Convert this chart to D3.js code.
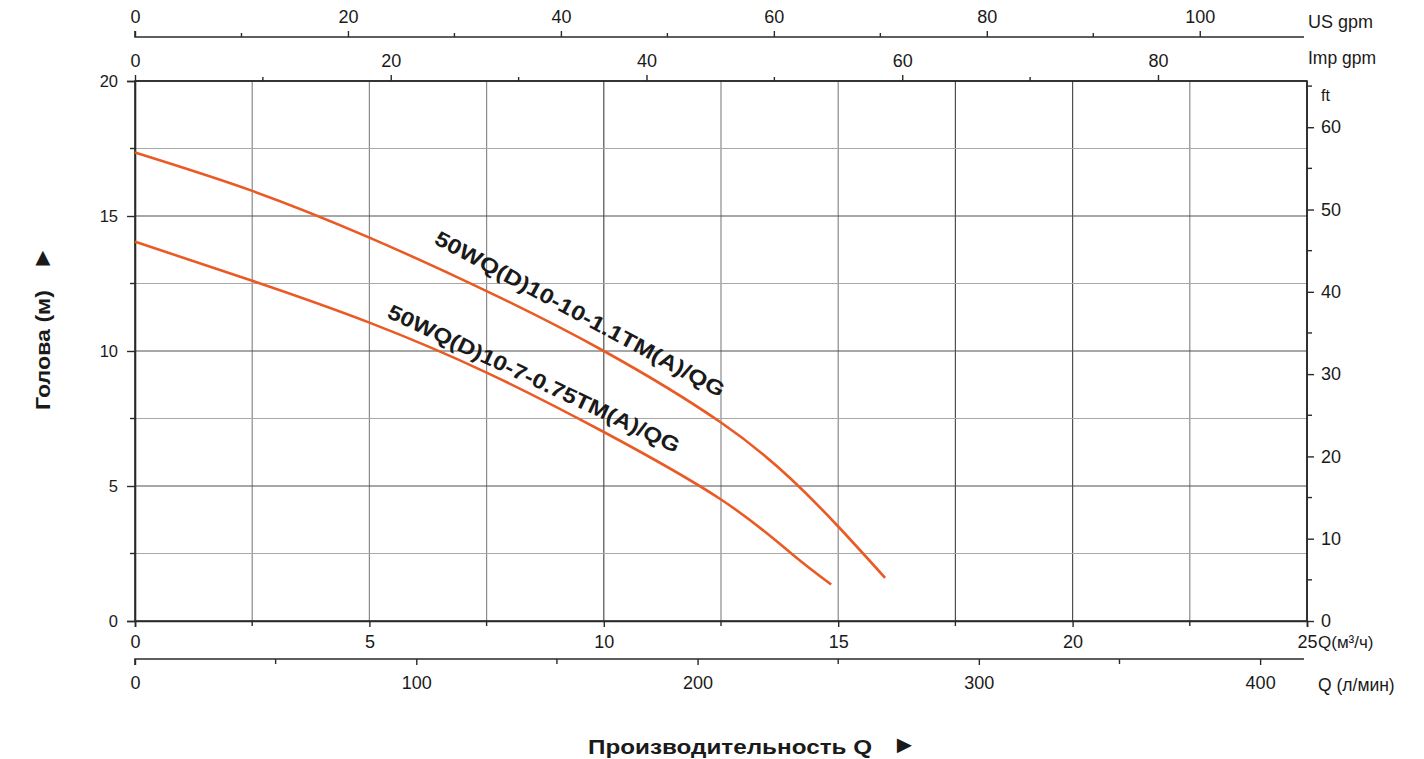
<!DOCTYPE html>
<html><head><meta charset="utf-8">
<script src="https://cdn.jsdelivr.net/npm/d3@7"></script>
<style>
html,body{margin:0;padding:0;background:#fff;}
svg text{font-family:"Liberation Sans",Arial,sans-serif;fill:#1a1a1a;}
</style></head>
<body><svg id="chart" width="1424" height="759"></svg>
<script>
// ---- data ----
const qMajorTicks = [0, 5, 10, 15, 20, 25];
const qMinorTicks = [2.5, 7.5, 12.5, 17.5, 22.5];
const headMajorTicks = [0, 5, 10, 15, 20];
const headMinorTicks = [2.5, 7.5, 12.5, 17.5];
const usGpmMajor = [0, 20, 40, 60, 80, 100];
const usGpmMinor = [10, 30, 50, 70, 90];
const impGpmMajor = [0, 20, 40, 60, 80];
const impGpmMinor = [10, 30, 50, 70];
const lpmMajor = [0, 100, 200, 300, 400];
const lpmMinor = [50, 150, 250, 350];
const ftMajor = [0, 10, 20, 30, 40, 50, 60];
const ftMinor = [5, 15, 25, 35, 45, 55, 65];

const pump1Name = "50WQ(D)10-10-1.1TM(A)/QG";
const pump1Q = [0, 2.5, 5, 7.5, 10, 12.5, 14, 15, 16];
const pump1H = [17.35, 15.93, 14.2, 12.22, 10.0, 7.35, 5.25, 3.5, 1.6];
const pump2Name = "50WQ(D)10-7-0.75TM(A)/QG";
const pump2Q = [0, 2.5, 5, 7.5, 10, 12.5, 14, 14.85];
const pump2H = [14.05, 12.6, 11.05, 9.2, 7.0, 4.5, 2.5, 1.35];

// ---- layout ----
const svg = d3.select("#chart");
const L = 135, R = 1307, T = 81, B = 621;
const x = d3.scaleLinear().domain([0, 25]).range([L, R]);
const y = d3.scaleLinear().domain([0, 20]).range([B, T]);
const xUS = d3.scaleLinear().domain([0, 25 * 4.40287]).range([L, R]);
const xImp = d3.scaleLinear().domain([0, 25 * 3.66615]).range([L, R]);
const xLpm = d3.scaleLinear().domain([0, 25 * 1000 / 60]).range([L, R]);
const yFt = d3.scaleLinear().domain([0, 20 * 3.28084]).range([B, T]);

const dark = "#2a2a2a", gridDark = "#505050", gridLight = "#a8a8a8";
const strongV = new Set([10, 17.5, 20]);

// grid
const g = svg.append("g");
qMajorTicks.concat(qMinorTicks).filter(v => v > 0 && v < 25).forEach(v => {
  g.append("line").attr("x1", x(v)).attr("x2", x(v)).attr("y1", T).attr("y2", B)
    .attr("stroke", strongV.has(v) ? gridDark : "#8a8a8a").attr("stroke-width", 1.2);
});
headMajorTicks.concat(headMinorTicks).filter(v => v > 0 && v < 20).forEach(v => {
  g.append("line").attr("x1", L).attr("x2", R).attr("y1", y(v)).attr("y2", y(v))
    .attr("stroke", headMajorTicks.includes(v) ? gridDark : gridLight).attr("stroke-width", 1.2);
});

// frame
svg.append("rect").attr("x", L).attr("y", T).attr("width", R - L).attr("height", B - T)
  .attr("fill", "none").attr("stroke", dark).attr("stroke-width", 1.6);

function styleAxis(sel, fs) {
  sel.select(".domain").attr("stroke", dark).attr("stroke-width", 1.6);
  sel.selectAll(".tick line").attr("stroke", dark).attr("stroke-width", 1.4);
  sel.selectAll(".tick text").attr("font-size", fs || 18).attr("fill", "#1a1a1a")
    .style("font-family", '"Liberation Sans",Arial,sans-serif');
}
function minor(scale, vals, orient, pos, len) {
  const gg = svg.append("g");
  vals.forEach(v => {
    const p = scale(v);
    if (orient === "h") gg.append("line").attr("x1", p).attr("x2", p).attr("y1", pos).attr("y2", pos + len)
      .attr("stroke", dark).attr("stroke-width", 1.4);
    else gg.append("line").attr("y1", p).attr("y2", p).attr("x1", pos).attr("x2", pos + len)
      .attr("stroke", dark).attr("stroke-width", 1.4);
  });
}

// left axis (head m)
const axL = svg.append("g").attr("transform", `translate(${L},0)`)
  .call(d3.axisLeft(y).tickValues(headMajorTicks).tickSize(8).tickPadding(9).tickFormat(d3.format("d")));
styleAxis(axL, 16.5);
minor(y, headMinorTicks, "v", L, -5);

// right axis (ft)
const axR = svg.append("g").attr("transform", `translate(${R},0)`)
  .call(d3.axisRight(yFt).tickValues(ftMajor).tickSize(7).tickPadding(7).tickFormat(d3.format("d")));
styleAxis(axR, 18);
axR.select(".domain").attr("d", `M0,${B}V${T}`);
minor(yFt, ftMinor, "v", R, 5);
svg.append("text").attr("x", 1321).attr("y", 101).attr("font-size", 16).text("ft");

// bottom Q m3/h
const axB = svg.append("g").attr("transform", `translate(0,${B})`)
  .call(d3.axisBottom(x).tickValues(qMajorTicks).tickSize(6).tickPadding(8).tickFormat(d3.format("d")));
styleAxis(axB, 18);
minor(x, qMinorTicks, "h", B, 5);
svg.append("text").attr("x", 1318).attr("y", 648).attr("font-size", 17).text("Q(м³/ч)");

// l/min axis
const axLpm = svg.append("g").attr("transform", `translate(0,659)`)
  .call(d3.axisBottom(xLpm).tickValues(lpmMajor).tickSize(6).tickPadding(11).tickFormat(d3.format("d")));
styleAxis(axLpm, 18);
axLpm.select(".domain").attr("d", `M${L},6V0H${R - 3}`);
minor(xLpm, lpmMinor, "h", 659, 5);
svg.append("text").attr("x", 1318).attr("y", 691).attr("font-size", 17.5).text("Q (л/мин)");

// US gpm axis
const axUS = svg.append("g").attr("transform", `translate(0,37)`)
  .call(d3.axisTop(xUS).tickValues(usGpmMajor).tickSize(6).tickPadding(8).tickFormat(d3.format("d")));
styleAxis(axUS, 18);
axUS.select(".domain").attr("d", `M${L},-6V0H${R - 3}`);
minor(xUS, usGpmMinor, "h", 37, -4);
svg.append("text").attr("x", 1308).attr("y", 28).attr("font-size", 18).text("US gpm");

// Imp gpm axis
const axImp = svg.append("g").attr("transform", `translate(0,${T})`)
  .call(d3.axisTop(xImp).tickValues(impGpmMajor).tickSize(6).tickPadding(8).tickFormat(d3.format("d")));
styleAxis(axImp, 18);
axImp.select(".domain").attr("d", `M${L},0H${R}`);
minor(xImp, impGpmMinor, "h", T, -4);
svg.append("text").attr("x", 1308).attr("y", 64).attr("font-size", 17.5).text("Imp gpm");

// curves
const line = d3.line().x(d => x(d[0])).y(d => y(d[1])).curve(d3.curveNatural);
[[pump1Q, pump1H], [pump2Q, pump2H]].forEach(([qs, hs]) => {
  svg.append("path").datum(qs.map((q, i) => [q, hs[i]])).attr("d", line)
    .attr("fill", "none").attr("stroke", "#ea5a25").attr("stroke-width", 2.6);
});

// curve labels
svg.append("text").attr("transform", "translate(433,243) rotate(28.3)")
  .attr("font-size", 21).attr("font-weight", "bold")
  .attr("textLength", 326).attr("lengthAdjust", "spacingAndGlyphs").text(pump1Name);
svg.append("text").attr("transform", "translate(386,317) rotate(25.2)")
  .attr("font-size", 21).attr("font-weight", "bold")
  .attr("textLength", 320).attr("lengthAdjust", "spacingAndGlyphs").text(pump2Name);

// axis titles
svg.append("text").attr("x", 588).attr("y", 754)
  .attr("font-size", 21).attr("font-weight", "bold")
  .attr("textLength", 284).attr("lengthAdjust", "spacingAndGlyphs")
  .text("Производительность Q");
svg.append("text").attr("x", 892).attr("y", 753).attr("font-size", 25).attr("font-weight", "bold").text("\u25BA");
svg.append("text").attr("transform", "translate(50,350) rotate(-90)").attr("text-anchor", "middle")
  .attr("font-size", 21).attr("font-weight", "bold")
  .attr("textLength", 120).attr("lengthAdjust", "spacingAndGlyphs")
  .text("Голова (м)");
svg.append("text").attr("transform", "translate(50,258) rotate(-90)").attr("text-anchor", "middle")
  .attr("font-size", 25).attr("font-weight", "bold").text("\u25BA");
</script></body></html>
